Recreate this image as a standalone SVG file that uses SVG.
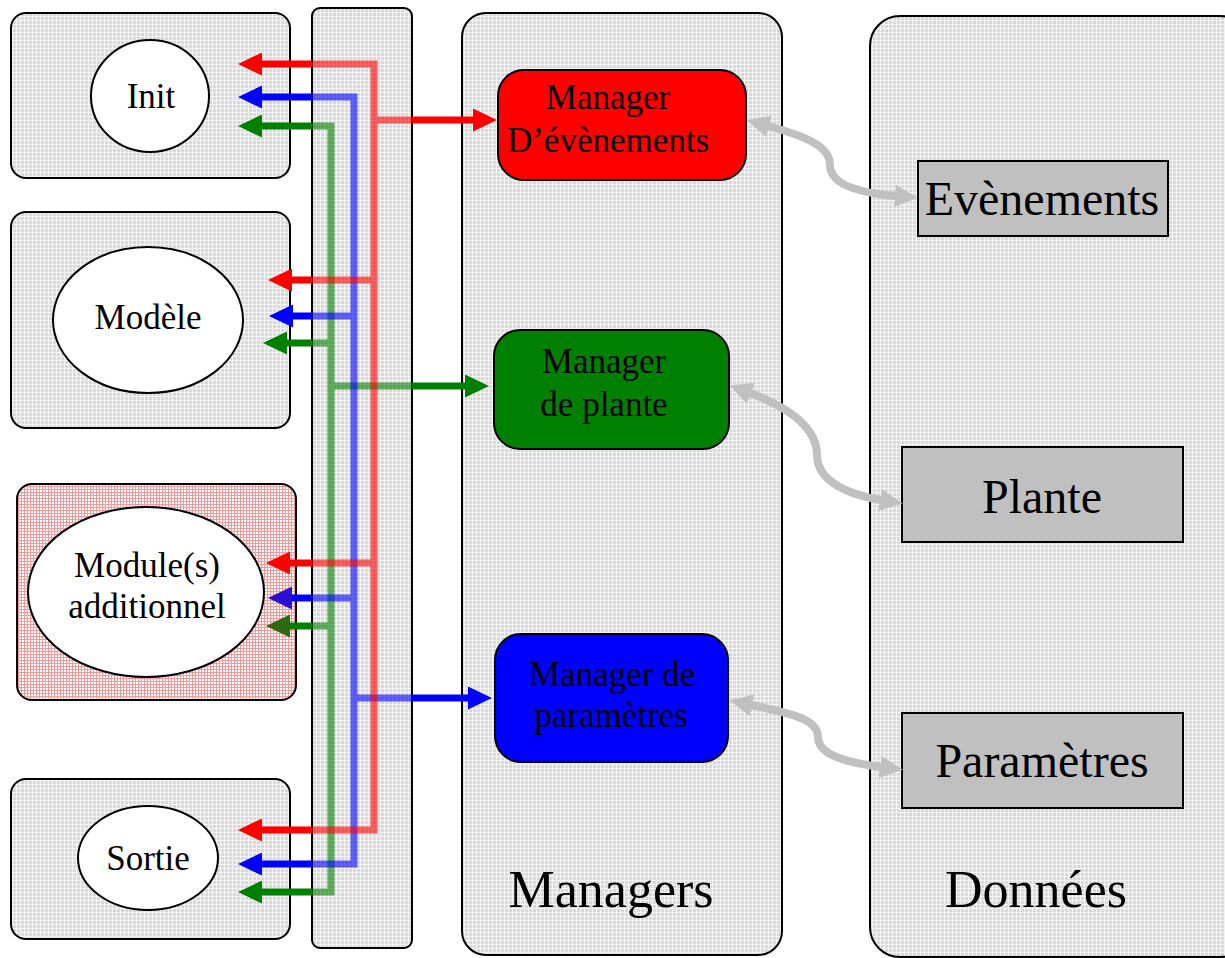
<svg xmlns="http://www.w3.org/2000/svg" width="1225" height="958" viewBox="0 0 1225 958">
<defs>
<pattern id="pg" width="4" height="4" patternUnits="userSpaceOnUse">
<rect width="4" height="4" fill="#d9d9d9"/>
<rect width="1" height="4" fill="#f4f4f4"/>
<rect width="4" height="1" fill="#f4f4f4"/>
</pattern>
<pattern id="pr" width="3" height="3" patternUnits="userSpaceOnUse">
<rect width="3" height="3" fill="#ffffff"/>
<rect width="1" height="3" fill="#f59a9a"/>
<rect width="3" height="1" fill="#f59a9a"/>
</pattern>
<marker id="ar" markerUnits="userSpaceOnUse" markerWidth="24" markerHeight="23" refX="1" refY="11.5" orient="auto" viewBox="0 0 24 23"><path d="M0,0 L24,11.5 L0,23 z" fill="#ff0000"/></marker>
<marker id="ab" markerUnits="userSpaceOnUse" markerWidth="24" markerHeight="23" refX="1" refY="11.5" orient="auto" viewBox="0 0 24 23"><path d="M0,0 L24,11.5 L0,23 z" fill="#0000ff"/></marker>
<marker id="ag" markerUnits="userSpaceOnUse" markerWidth="24" markerHeight="23" refX="1" refY="11.5" orient="auto" viewBox="0 0 24 23"><path d="M0,0 L24,11.5 L0,23 z" fill="#008000"/></marker>
<marker id="ab2" markerUnits="userSpaceOnUse" markerWidth="24" markerHeight="23" refX="1" refY="11.5" orient="auto" viewBox="0 0 24 23"><path d="M0,0 L24,11.5 L0,23 z" fill="#2a10d0"/></marker>
<marker id="ag2" markerUnits="userSpaceOnUse" markerWidth="24" markerHeight="23" refX="1" refY="11.5" orient="auto" viewBox="0 0 24 23"><path d="M0,0 L24,11.5 L0,23 z" fill="#2f6a12"/></marker>
<marker id="ga" markerUnits="userSpaceOnUse" markerWidth="23" markerHeight="22" refX="1" refY="11" orient="auto-start-reverse" viewBox="0 0 23 22"><path d="M0,0 L23,11 L0,22 z" fill="#c0c0c0"/></marker>
</defs>
<style>
.box{fill:url(#pg);stroke:#000;stroke-width:2}
.ell{fill:#fff;stroke:#000;stroke-width:2}
.t{font-family:"Liberation Serif","Times New Roman",serif;fill:#000;text-anchor:middle}
.s{font-size:35px}
.m{font-size:48px}
.l{font-size:52px}
.mgr{stroke:#000;stroke-width:2}
.data{fill:#c0c0c0;stroke:#000;stroke-width:2}
.bus{fill:none;stroke-width:7;stroke-opacity:0.6}
.sol{fill:none;stroke-width:7}
.gc{fill:none;stroke:#c0c0c0;stroke-width:8}
</style>
<rect width="1225" height="958" fill="#fff"/>

<g id="col-bus"><rect x="312" y="8" width="100" height="940" rx="8" class="box"/></g>
<g id="col-managers">
<rect x="462" y="13" width="320" height="942" rx="24" class="box"/>
<text x="611" y="907" class="t l">Managers</text>
</g>
<g id="col-donnees">
<rect x="870" y="16" width="380" height="941" rx="30" class="box"/>
<text x="1036" y="907" class="t l">Données</text>
</g>

<g id="init">
<rect x="11" y="13" width="279" height="165" rx="15" class="box"/>
<ellipse cx="150" cy="96" rx="59" ry="56" class="ell"/>
<text x="151" y="108" class="t s">Init</text>
</g>
<g id="modele">
<rect x="11" y="212" width="279" height="216" rx="15" class="box"/>
<ellipse cx="148" cy="320" rx="95" ry="73" class="ell"/>
<text x="148" y="329" class="t s">Modèle</text>
</g>
<g id="module">
<rect x="17" y="484" width="279" height="216" rx="15" fill="url(#pr)" stroke="#000" stroke-width="2"/>
<ellipse cx="146" cy="592" rx="118" ry="85" class="ell"/>
<text x="147" y="577" class="t s">Module(s)</text>
<text x="147" y="618" class="t s">additionnel</text>
</g>
<g id="sortie">
<rect x="11" y="779" width="279" height="160" rx="15" class="box"/>
<ellipse cx="148" cy="858" rx="70" ry="52" class="ell"/>
<text x="148" y="870" class="t s">Sortie</text>
</g>

<g id="mgr-evenements">
<rect x="498" y="70" width="248" height="110" rx="26" fill="#ff0000" class="mgr"/>
<text x="608" y="109" class="t s">Manager</text>
<text x="608" y="152" class="t s">D’évènements</text>
</g>
<g id="mgr-plante">
<rect x="494" y="330" width="235" height="119" rx="26" fill="#008000" class="mgr"/>
<text x="604" y="373" class="t s">Manager</text>
<text x="604" y="416" class="t s">de plante</text>
</g>
<g id="mgr-parametres">
<rect x="495" y="634" width="233" height="128" rx="26" fill="#0000ff" class="mgr"/>
<text x="612" y="686" class="t s">Manager de</text>
<text x="611" y="727" class="t s">paramètres</text>
</g>

<g id="evenements">
<rect x="918" y="161" width="250" height="75" class="data"/>
<text x="1042" y="215" class="t m">Evènements</text>
</g>
<g id="plante">
<rect x="902" y="447" width="281" height="95" class="data"/>
<text x="1042" y="513" class="t m">Plante</text>
</g>
<g id="parametres">
<rect x="902" y="713" width="281" height="95" class="data"/>
<text x="1042" y="777" class="t m">Paramètres</text>
</g>

<g id="connectors">
<path class="bus" stroke="#008000" d="M312,126 H331 V892 H312 M331,343 H312 M331,626 H312 M331,386 H412"/>
<path class="bus" stroke="#0000ff" d="M312,97 H354 V864 H312 M354,316 H312 M354,598 H312 M354,698 H412"/>
<path class="bus" stroke="#ff0000" d="M312,64 H374 V830 H312 M374,280 H312 M374,563 H312 M374,120 H412"/>

<g stroke="#ff0000" class="sol">
<line x1="312" y1="64" x2="261" y2="64" marker-end="url(#ar)"/>
<line x1="312" y1="280" x2="291" y2="280" marker-end="url(#ar)"/>
<line x1="312" y1="563" x2="289" y2="563" marker-end="url(#ar)"/>
<line x1="312" y1="830" x2="261" y2="830" marker-end="url(#ar)"/>
<line x1="412" y1="120" x2="474" y2="120" marker-end="url(#ar)"/>
</g>
<g stroke="#0000ff" class="sol">
<line x1="312" y1="97" x2="261" y2="97" marker-end="url(#ab)"/>
<line x1="312" y1="316" x2="292" y2="316" marker-end="url(#ab)"/>
<line x1="312" y1="598" x2="291" y2="598" marker-end="url(#ab2)"/>
<line x1="312" y1="864" x2="261" y2="864" marker-end="url(#ab)"/>
<line x1="412" y1="698" x2="469" y2="698" marker-end="url(#ab)"/>
</g>
<g stroke="#008000" class="sol">
<line x1="312" y1="126" x2="261" y2="126" marker-end="url(#ag)"/>
<line x1="312" y1="343" x2="286" y2="343" marker-end="url(#ag)"/>
<line x1="312" y1="626" x2="289" y2="626" marker-end="url(#ag2)"/>
<line x1="312" y1="892" x2="261" y2="892" marker-end="url(#ag)"/>
<line x1="412" y1="386" x2="466" y2="386" marker-end="url(#ag)"/>
</g>

<path class="gc" d="M768,126 C805,136 830,146 830,165 C830,185 860,193 896,196" marker-start="url(#ga)" marker-end="url(#ga)"/>
<path class="gc" d="M750,393 C790,408 817,428 817,455 C817,482 850,495 881,500" marker-start="url(#ga)" marker-end="url(#ga)"/>
<path class="gc" d="M751,705 C795,714 818,720 818,737 C818,756 850,763 881,767" marker-start="url(#ga)" marker-end="url(#ga)"/>
</g>
</svg>
